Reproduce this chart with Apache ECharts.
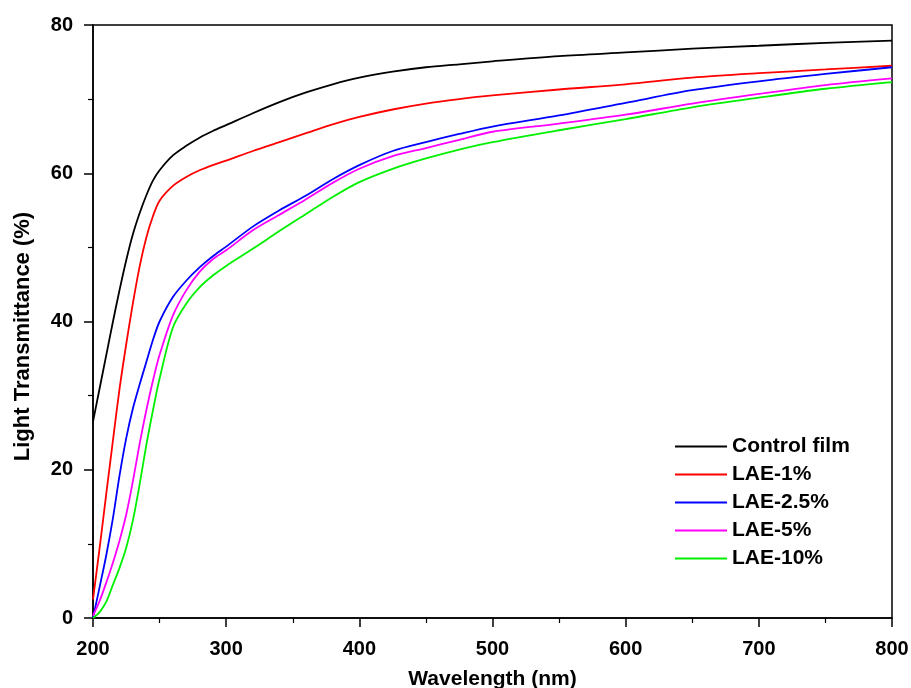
<!DOCTYPE html>
<html>
<head>
<meta charset="utf-8">
<script src="https://cdn.jsdelivr.net/npm/echarts@6/dist/echarts.min.js"></script>
<style>
  html, body { margin: 0; padding: 0; background: #fff; }
  #chart { width: 911px; height: 688px; }
</style>
</head>
<body>
<div id="chart"></div>
<script>
// wavelength (nm)
const wavelengths = [200, 205, 210, 215, 220, 225, 230, 235, 240, 245, 250, 260, 270, 280, 290, 300,
  320, 340, 360, 380, 400, 425, 450, 475, 500, 550, 600, 650, 700, 750, 800];

// light transmittance (%)
const controlFilm = [26.5, 31, 35.5, 40, 44.3, 48.3, 51.8, 54.6, 57, 59, 60.4, 62.4, 63.7, 64.8, 65.7, 66.5,
  68.1, 69.6, 70.9, 72.0, 72.9, 73.7, 74.3, 74.7, 75.1, 75.8, 76.3, 76.8, 77.2, 77.6, 77.9];
const lae1 = [2.5, 9.5, 16.8, 24, 31, 37, 42.5, 47.4, 51.3, 54.2, 56.3, 58.3, 59.5, 60.4, 61.1, 61.7,
  63.0, 64.2, 65.4, 66.6, 67.6, 68.6, 69.4, 70.0, 70.5, 71.3, 72.0, 72.9, 73.5, 74.0, 74.5];
const lae25 = [0, 4.2, 8.5, 13.5, 19.3, 24.3, 28.3, 31.5, 34.5, 37.5, 40.0, 43.3, 45.5, 47.3, 48.8, 50.1,
  52.8, 55.0, 57.0, 59.2, 61.1, 63.0, 64.2, 65.3, 66.3, 67.8, 69.5, 71.2, 72.4, 73.4, 74.3];
const lae5 = [0.3, 2.3, 4.8, 7.5, 10.5, 14, 18.5, 23.5, 28, 32, 35.5, 40.8, 44.2, 46.7, 48.4, 49.6,
  52.3, 54.4, 56.5, 58.7, 60.6, 62.3, 63.4, 64.5, 65.6, 66.7, 67.9, 69.4, 70.7, 71.9, 72.8];
const lae10 = [0, 0.8, 2.2, 4.5, 6.8, 9.5, 13.2, 18, 23.3, 28, 32.3, 39.2, 42.4, 44.6, 46.2, 47.5,
  49.8, 52.2, 54.5, 56.8, 58.8, 60.6, 62.0, 63.2, 64.2, 65.8, 67.3, 68.9, 70.2, 71.4, 72.3];

const seriesNames = ['Control film', 'LAE-1%', 'LAE-2.5%', 'LAE-5%', 'LAE-10%'];
const seriesValues = [controlFilm, lae1, lae25, lae5, lae10];
const seriesColors = ['#000000', '#ff0000', '#0000ff', '#ff00ff', '#00f000'];

const font = 'Liberation Sans, Arial, sans-serif';

// 组合成 [x, y] 数据
function pairs (values) {
  return wavelengths.map((w, i) => [w, values[i]]);
}

let chart = echarts.init(document.getElementById('chart'), null, { renderer: 'canvas' });

chart.setOption({
  backgroundColor: '#ffffff',
  animation: false,
  grid: {
    left: 93,
    right: 19,
    top: 25,
    bottom: 70,
    outerBoundsMode: 'none',
    containLabel: false,
    show: true,
    borderColor: '#000',
    borderWidth: 1.5,
    backgroundColor: 'transparent'
  },
  legend: {
    orient: 'vertical',
    left: 670,
    top: 431,
    icon: 'rect',
    itemWidth: 52,
    itemHeight: 2,
    itemGap: 7,
    data: seriesNames,
    textStyle: { fontFamily: font, fontSize: 21, fontWeight: 'bold', color: '#000' }
  },
  xAxis: {
    type: 'value',
    min: 200,
    max: 800,
    interval: 100,
    name: 'Wavelength (nm)',
    nameLocation: 'middle',
    nameGap: 51,
    nameTextStyle: { fontFamily: font, fontSize: 21, fontWeight: 'bold', color: '#000' },
    axisLine: { show: true, lineStyle: { color: '#000', width: 1.5 } },
    axisTick: { show: true, inside: false, length: 9, lineStyle: { color: '#000', width: 1.5 } },
    minorTick: { show: true, splitNumber: 2, length: 5, lineStyle: { color: '#000', width: 1.2 } },
    axisLabel: { fontFamily: font, fontSize: 20, fontWeight: 'bold', color: '#000', margin: 21 },
    splitLine: { show: false }
  },
  yAxis: {
    type: 'value',
    min: 0,
    max: 80,
    interval: 20,
    name: 'Light Transmittance (%)',
    nameLocation: 'middle',
    nameGap: 59,
    nameTextStyle: { fontFamily: font, fontSize: 22, fontWeight: 'bold', color: '#000', padding: [0, 30, 0, 0] },
    axisLine: { show: true, lineStyle: { color: '#000', width: 1.5 } },
    axisTick: { show: true, inside: false, length: 9, lineStyle: { color: '#000', width: 1.5 } },
    minorTick: { show: true, splitNumber: 2, length: 5, lineStyle: { color: '#000', width: 1.2 } },
    axisLabel: { fontFamily: font, fontSize: 20, fontWeight: 'bold', color: '#000', margin: 20 },
    splitLine: { show: false }
  },
  series: seriesNames.map((name, i) => {
    return {
      name: name,
      type: 'line',
      data: pairs(seriesValues[i]),
      smooth: 0.3,
      symbol: 'none',
      color: seriesColors[i],
      lineStyle: { width: 1.8, color: seriesColors[i] }
    }
  })
});
</script>
</body>
</html>
